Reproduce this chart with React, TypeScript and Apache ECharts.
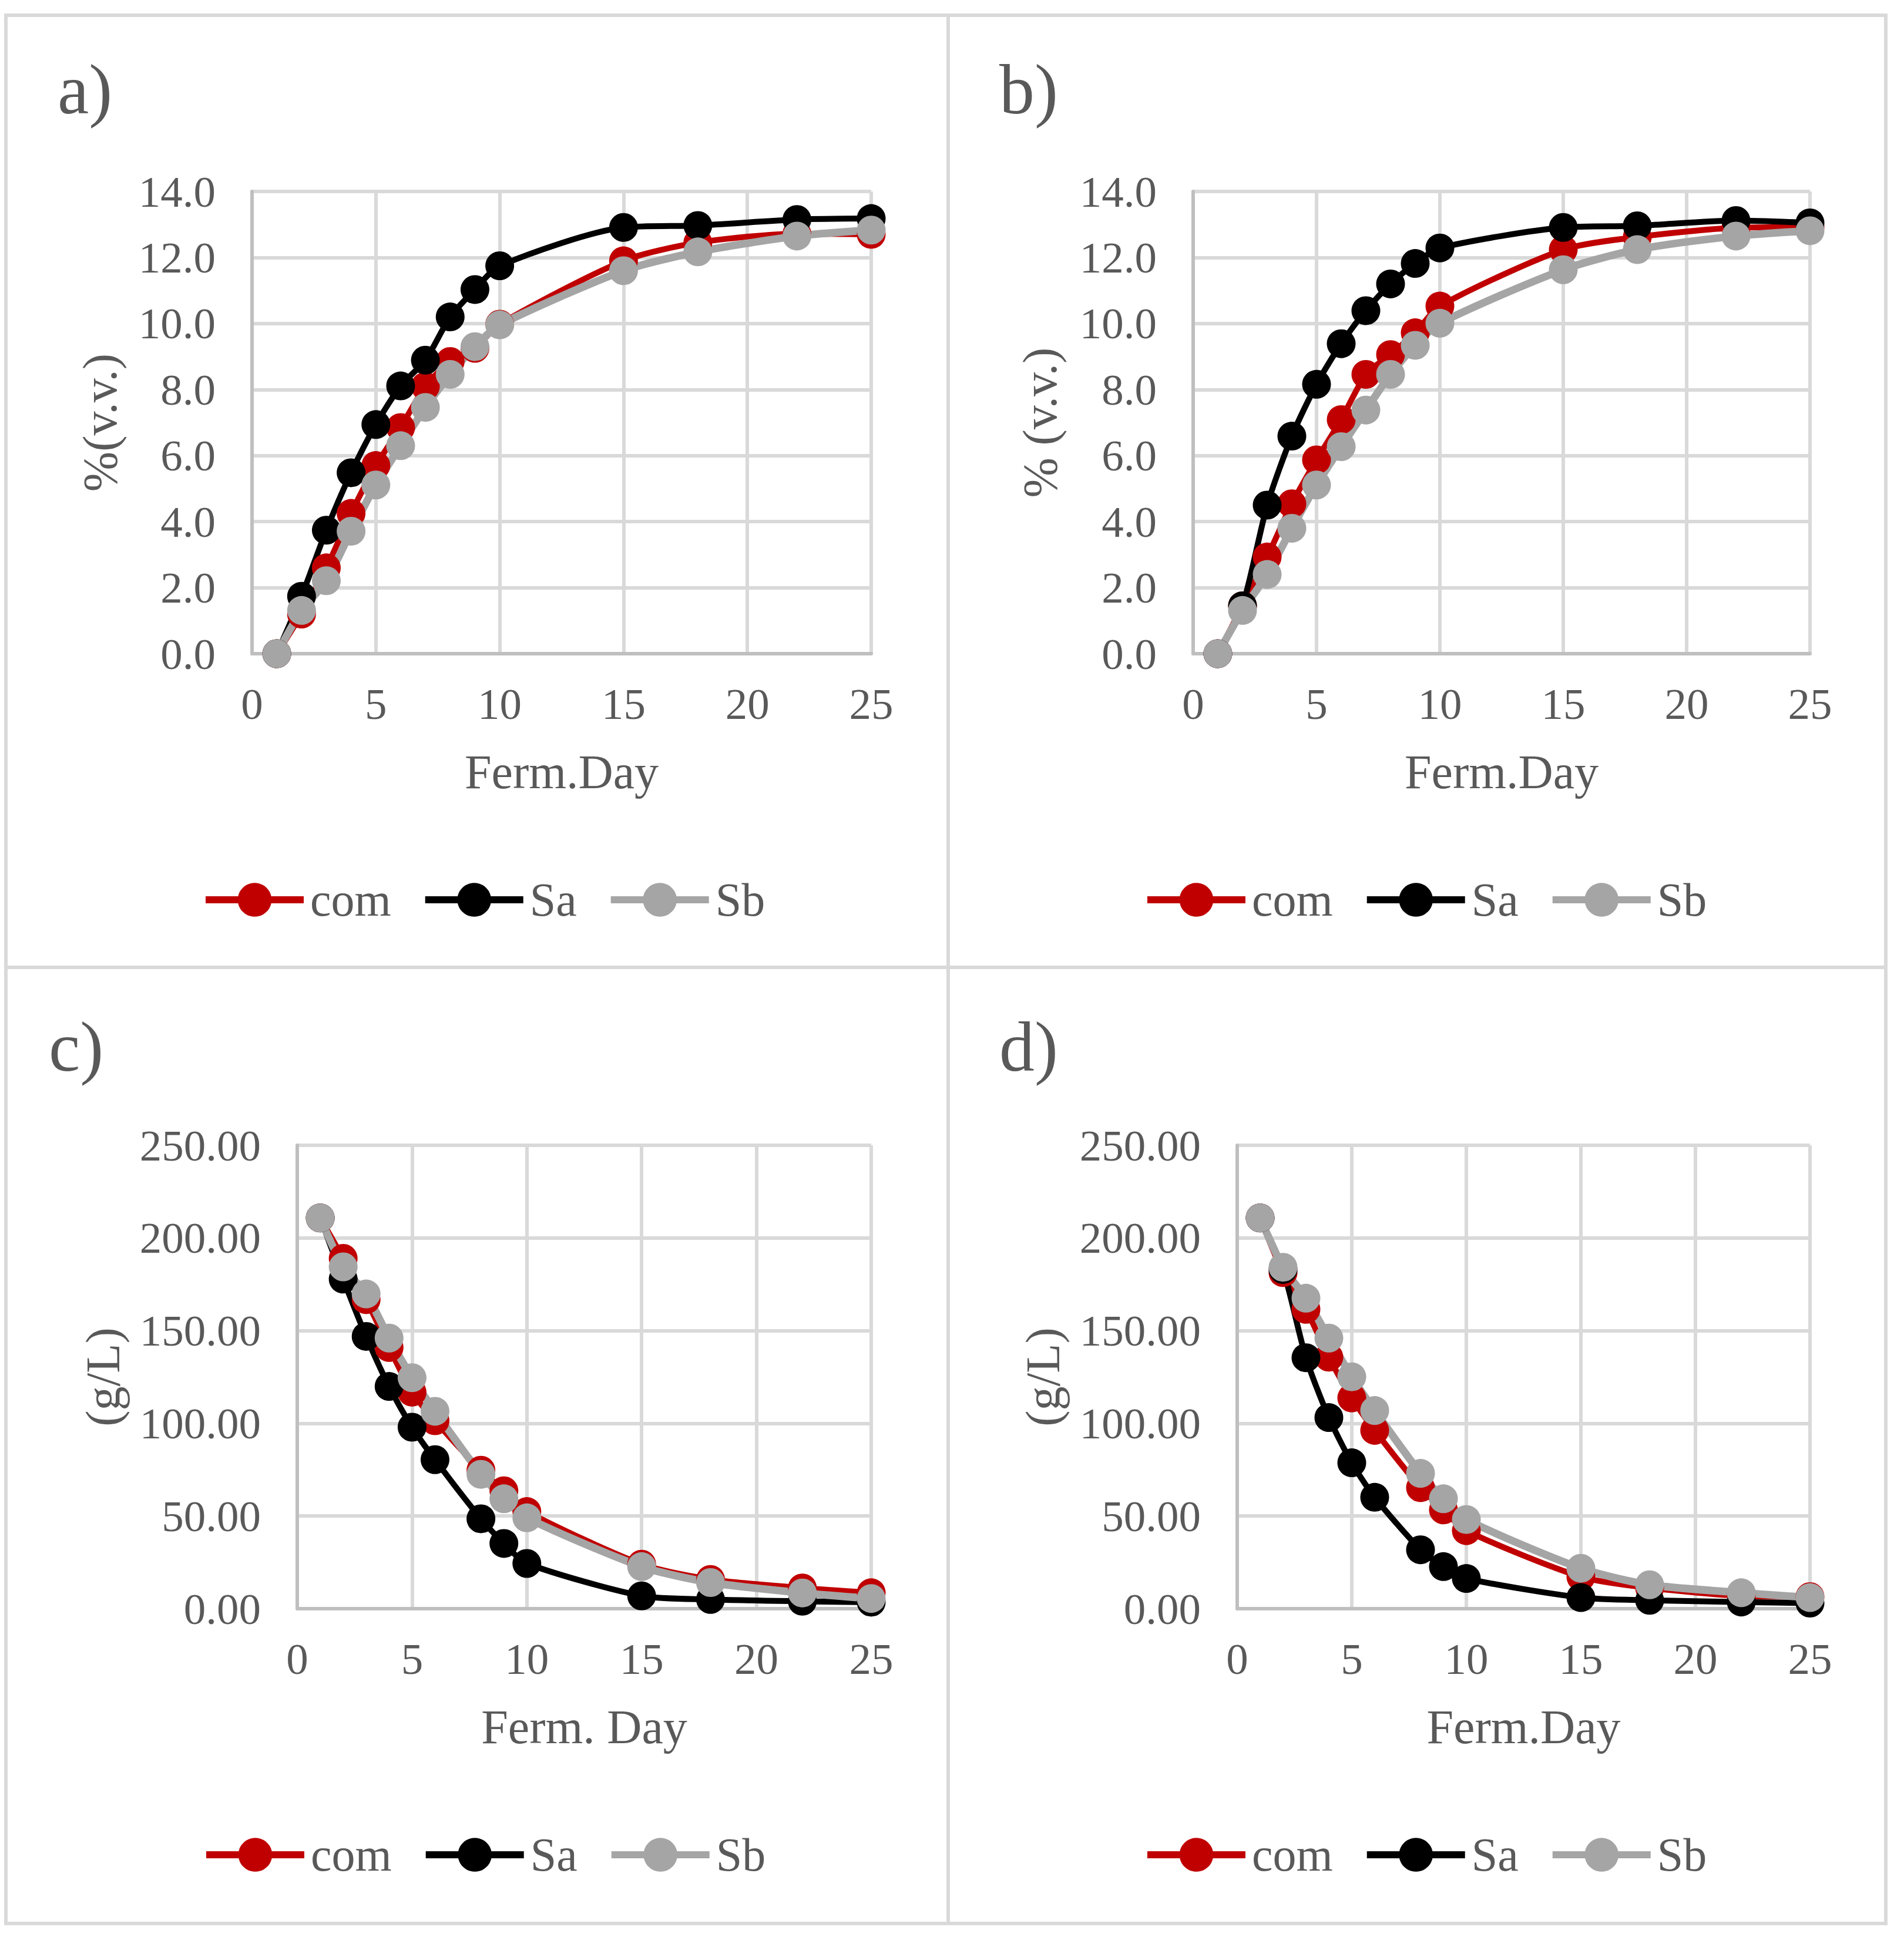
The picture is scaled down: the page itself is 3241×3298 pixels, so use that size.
import React, { useEffect, useRef } from 'react';
import * as echarts from 'echarts';

// fermentation days (c and d have no reading on day 7)
const daysAB = [1, 2, 3, 4, 5, 6, 7, 8, 9, 10, 15, 18, 22, 25];
const daysCD = [1, 2, 3, 4, 5, 6, 8, 9, 10, 15, 18, 22, 25];

// a) alcohol % (v.v.)
const comA = [0, 1.2, 2.6, 4.25, 5.7, 6.85, 8.1, 8.85, 9.25, 9.98, 11.9, 12.45, 12.72, 12.7];
const saA = [0, 1.74, 3.74, 5.48, 6.94, 8.11, 8.89, 10.2, 11.03, 11.75, 12.91, 12.97, 13.15, 13.18];
const sbA = [0, 1.31, 2.21, 3.71, 5.11, 6.3, 7.46, 8.46, 9.3, 9.96, 11.6, 12.17, 12.65, 12.83];

// b) alcohol % (v.v.)
const comB = [0, 1.45, 2.93, 4.54, 5.87, 7.09, 8.46, 9.06, 9.72, 10.53, 12.24, 12.62, 12.9, 12.92];
const saB = [0, 1.45, 4.5, 6.59, 8.16, 9.39, 10.39, 11.2, 11.82, 12.29, 12.91, 12.96, 13.12, 13.05];
const sbB = [0, 1.31, 2.4, 3.8, 5.11, 6.27, 7.38, 8.46, 9.34, 10.01, 11.63, 12.24, 12.65, 12.81];

// c) sugar (g/L)
const comC = [210.8, 189, 166.7, 140.9, 116.8, 101.4, 74.7, 63.6, 52.4, 24, 15.8, 11.2, 8.6];
const saC = [210.8, 177.8, 146.9, 119.9, 97.9, 80.4, 48.5, 35.2, 24.4, 6.9, 5, 4, 3.5];
const sbC = [210.8, 184.4, 169.8, 146, 124.6, 106.5, 72.5, 59.3, 49, 22.7, 14.1, 8.5, 5.5];

// d) sugar (g/L)
const comD = [210.8, 181.3, 161.5, 135.7, 113.7, 96.2, 65.3, 53.3, 42.1, 17.2, 11.2, 6.9, 6.5];
const saD = [210.8, 183, 135.4, 103.1, 78.7, 60.1, 31.8, 22.7, 16.3, 6, 4.5, 3.6, 3];
const sbD = [210.8, 184.2, 167.5, 146, 125.1, 106.9, 73, 59.3, 48.1, 21.8, 12.9, 8.6, 6];

const seriesNames = ['com', 'Sa', 'Sb'];
const seriesColors = ['#c00000', '#000000', '#a5a5a5'];
const seriesWidths = [10, 10, 13];

const xTicks = [0, 5, 10, 15, 20, 25];

const FONT = '"Liberation Serif", "Times New Roman", serif';
const TEXT = '#595959';
const GRID_LINE = '#d9d9d9';
const AXIS_LINE = '#bfbfbf';

interface Panel {
    label: string;
    labelX: number;
    labelY: number;
    grid: { left: number; top: number; width: number; height: number };
    days: number[];
    values: number[][];
    yMax: number;
    yStep: number;
    yDigits: number;
    yName: string;
    yNameGap: number;
    xName: string;
    legendLeft: number;
    legendTop: number;
}

const panels: Panel[] = [
    {
        label: 'a)', labelX: 98, labelY: 152,
        grid: { left: 429, top: 326, width: 1054, height: 787 },
        days: daysAB, values: [comA, saA, sbA],
        yMax: 14, yStep: 2, yDigits: 1,
        yName: '%(v.v.)', yNameGap: 218, xName: 'Ferm.Day',
        legendLeft: 344, legendTop: 1492
    },
    {
        label: 'b)', labelX: 1701, labelY: 152,
        grid: { left: 2031, top: 326, width: 1050, height: 787 },
        days: daysAB, values: [comB, saB, sbB],
        yMax: 14, yStep: 2, yDigits: 1,
        yName: '% (v.v.)', yNameGap: 220, xName: 'Ferm.Day',
        legendLeft: 1947, legendTop: 1492
    },
    {
        label: 'c)', labelX: 83, labelY: 1782,
        grid: { left: 506, top: 1950, width: 977, height: 789 },
        days: daysCD, values: [comC, saC, sbC],
        yMax: 250, yStep: 50, yDigits: 2,
        yName: '(g/L)', yNameGap: 290, xName: 'Ferm. Day',
        legendLeft: 345, legendTop: 3118
    },
    {
        label: 'd)', labelX: 1701, labelY: 1782,
        grid: { left: 2106, top: 1950, width: 975, height: 789 },
        days: daysCD, values: [comD, saD, sbD],
        yMax: 250, yStep: 50, yDigits: 2,
        yName: '(g/L)', yNameGap: 290, xName: 'Ferm.Day',
        legendLeft: 1947, legendTop: 3118
    }
];

// chart frames, one per panel
const frames = [
    { x: 10, y: 26, w: 1604, h: 1621 },
    { x: 1614, y: 26, w: 1596, h: 1621 },
    { x: 10, y: 1647, w: 1604, h: 1628 },
    { x: 1614, y: 1647, w: 1596, h: 1628 }
];

const App: React.FC = () => {
    const chartRef = useRef<HTMLDivElement>(null);

    useEffect(() => {
        if (!chartRef.current) return;
        document.body.style.margin = '0';

        const chart = echarts.init(chartRef.current, undefined, { renderer: 'svg' });

        const option = {
            animation: false,
            backgroundColor: '#ffffff',
            grid: panels.map(p => ({ ...p.grid, containLabel: false })),
            xAxis: panels.map((p, i) => ({
                type: 'value',
                gridIndex: i,
                min: 0,
                max: 25,
                interval: 5,
                name: p.xName,
                nameLocation: 'middle',
                nameGap: 160,
                nameTextStyle: { fontFamily: FONT, fontSize: 82, color: TEXT },
                axisLine: { show: true, lineStyle: { color: AXIS_LINE, width: 6 } },
                axisTick: { show: false },
                axisLabel: {
                    fontFamily: FONT, fontSize: 75, color: TEXT, margin: 48,
                    formatter: (v: number) => (xTicks.includes(v) ? String(v) : '')
                },
                splitLine: { show: true, lineStyle: { color: GRID_LINE, width: 6 } }
            })),
            yAxis: panels.map((p, i) => ({
                type: 'value',
                gridIndex: i,
                min: 0,
                max: p.yMax,
                interval: p.yStep,
                name: p.yName,
                nameLocation: 'middle',
                nameGap: p.yNameGap,
                nameTextStyle: { fontFamily: FONT, fontSize: 82, color: TEXT },
                axisLine: { show: true, lineStyle: { color: AXIS_LINE, width: 6 } },
                axisTick: { show: false },
                axisLabel: {
                    fontFamily: FONT, fontSize: 75, color: TEXT, margin: 62,
                    formatter: (v: number) => v.toFixed(p.yDigits)
                },
                splitLine: { show: true, lineStyle: { color: GRID_LINE, width: 6 } }
            })),
            legend: panels.map(p => ({
                data: seriesNames,
                left: p.legendLeft,
                top: p.legendTop,
                padding: 0,
                orient: 'horizontal',
                itemWidth: 167,
                itemHeight: 72,
                itemGap: 52,
                lineStyle: { width: 12 },
                textStyle: { fontFamily: FONT, fontSize: 80, color: TEXT, padding: [0, 0, 0, 6] }
            })),
            series: panels.flatMap((p, i) =>
                p.values.map((vals, k) => ({
                    name: seriesNames[k],
                    type: 'line',
                    xAxisIndex: i,
                    yAxisIndex: i,
                    data: p.days.map((d, j) => [d, vals[j]]),
                    smooth: 0.25,
                    symbol: 'circle',
                    symbolSize: 49,
                    lineStyle: { color: seriesColors[k], width: seriesWidths[k] },
                    itemStyle: { color: seriesColors[k] }
                }))
            ),
            graphic: [
                ...frames.map(f => ({
                    type: 'rect',
                    shape: { x: f.x, y: f.y, width: f.w, height: f.h },
                    style: { fill: 'none', stroke: GRID_LINE, lineWidth: 6 },
                    silent: true
                })),
                ...panels.map(p => ({
                    type: 'text',
                    x: p.labelX,
                    y: p.labelY,
                    style: {
                        text: p.label,
                        fontFamily: FONT,
                        fontSize: 120,
                        fill: TEXT,
                        verticalAlign: 'middle'
                    }
                }))
            ]
        };

        chart.setOption(option);

        return () => {
            chart.dispose();
        };
    }, []);

    return <div ref={chartRef} style={{ width: 3241, height: 3298 }} />;
};

export default App;
